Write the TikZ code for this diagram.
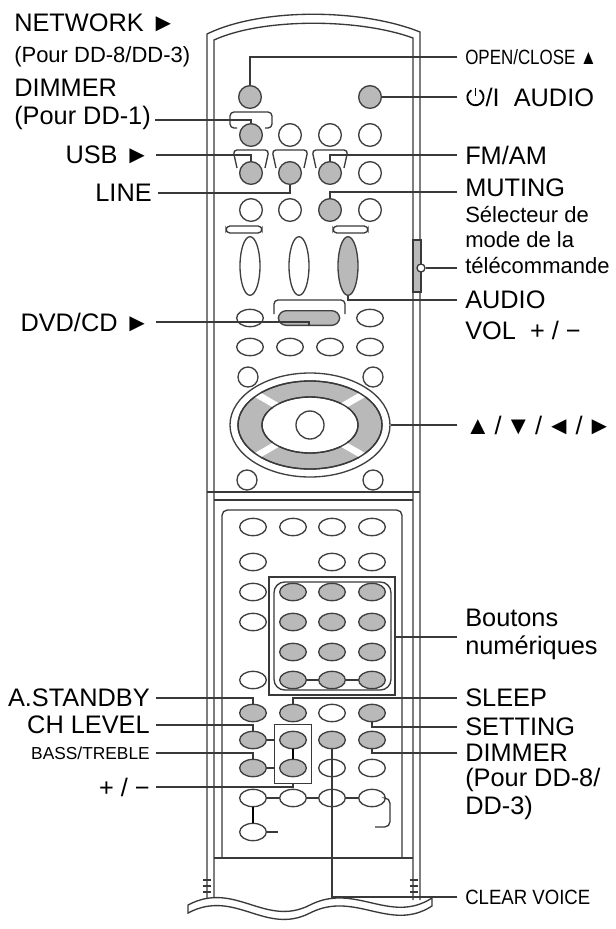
\documentclass[tikz,border=0pt]{standalone}
\usepackage{fontspec}
\setmainfont{Liberation Sans}
\usepackage{graphicx}
\usepackage{tikz}
\usetikzlibrary{positioning,shapes.geometric,calc}

\tikzset{
  btn/.style={circle,draw=gray!50!black,line width=1pt,minimum size=17pt,inner sep=0pt},
  ovl/.style={ellipse,draw=gray!50!black,line width=1pt,minimum width=20pt,minimum height=13pt,inner sep=0pt},
  on/.style={fill=gray!55},
  off/.style={fill=white},
  body/.style={draw=gray!45!black,line width=1pt},
  lead/.style={draw=gray!45!black,line width=1.2pt},
  big/.style={font=\fontsize{19}{21}\selectfont,inner sep=0pt},
  mid/.style={font=\fontsize{16.5}{19}\selectfont,inner sep=0pt},
  bassf/.style={font=\fontsize{13}{15}\selectfont,inner sep=0pt},
  sml/.style={font=\fontsize{15.5}{17}\selectfont,inner sep=0pt},
  stk/.style={font=\fontsize{16.5}{19}\selectfont,inner sep=0pt,align=left}
}
\newcommand{\powersym}{\tikz[baseline=0pt,line width=1.4pt]{\draw (0,0.36em) +(60:0.32em) arc (60:-240:0.32em); \draw (0,0.4em) -- (0,0.74em);}}

\begin{document}
\begin{tikzpicture}[x=0.75pt,y=-0.75pt]
	\useasboundingbox (0,0) rectangle (615,929);

	% remote body
	\draw[body] (207,900) -- (207,34) .. controls (260,8) and (360,8) .. (420,32) -- (420,900);
	\draw[body] (214,900) -- (214,40) .. controls (262,18) and (358,18) .. (413,38) -- (413,900);
	\draw[body] (207,492) -- (420,492);
	\draw[body] (214,500) -- (413,500);
	\draw[body,rounded corners=4] (222,858) -- (222,510) -- (402,510) -- (402,858);
	\draw[body] (214,858) -- (413,858);
	\draw[body,fill=white] (188,905) .. controls (235,880) and (265,928) .. (310,905) .. controls (355,882) and (390,925) .. (432,898)
		-- (432,906) .. controls (390,933) and (355,890) .. (310,913) .. controls (265,936) and (235,888) .. (188,913) -- cycle;
	\foreach \y in {880,886,892} {
		\draw[body] (203,\y) -- (211,\y);
		\draw[body] (410,\y) -- (418,\y);
	}

	% side switch
	\draw[body,fill=gray!55] (413,240) rectangle (421,292);
	\node[circle,draw=gray!45!black,fill=white,line width=1pt,minimum size=6pt,inner sep=0pt] (knob) at (421,268) {};

	% top buttons
	\node[btn,on] (r0c1) at (250,97) {};
	\node[btn,on] (r0c4) at (370,97) {};
	\foreach \c/\x/\s in {1/251/on,2/290/off,3/330/off,4/370/off}
		\node[btn,\s] (r1c\c) at (\x,135) {};
	\foreach \c/\x/\s in {1/251/on,2/290/on,3/330/on,4/370/off}
		\node[btn,\s] (r2c\c) at (\x,173) {};
	\foreach \c/\x/\s in {1/251/off,2/290/off,3/330/on,4/370/off}
		\node[btn,\s] (r3c\c) at (\x,210) {};
	\draw[body,rounded corners=3] (237,128) -- (230,128) -- (230,112) -- (272,112) -- (272,128) -- (265,128);
	\foreach \x in {251,290,330}
		\draw[body,rounded corners=3] ($(\x,168)+(-14,0)$) -- ($(\x,150)+(-18,0)$) -- ($(\x,150)+(18,0)$) -- ($(\x,168)+(14,0)$);

	% volume column
	\draw[body,rounded corners=3] (226,226) rectangle (262,233);
	\draw[body,rounded corners=3] (333,226) rectangle (368,233);
	\node[ellipse,draw=gray!50!black,line width=1pt,minimum width=15pt,minimum height=44pt,inner sep=0pt] (tall1) at (250,266) {};
	\node[ellipse,draw=gray!50!black,line width=1pt,minimum width=15pt,minimum height=44pt,inner sep=0pt] (tall2) at (299,266) {};
	\node[ellipse,draw=gray!50!black,line width=1pt,fill=gray!55,minimum width=15pt,minimum height=44pt,inner sep=0pt] (tall3) at (348,266) {};
	\draw[body,rounded corners=3] (274,314) -- (274,300) -- (345,300) -- (345,314);
	\node[rectangle,rounded corners=6,draw=gray!50!black,line width=1pt,fill=gray!55,minimum width=46pt,minimum height=11pt] (bar) at (309,318) {};
	\node[ovl] (o1) at (250,318) {};
	\node[ovl] (o2) at (370,318) {};
	\foreach \c/\x in {1/250,2/290,3/330,4/370}
		\node[ovl] (p\c) at (\x,347) {};
	\node[btn,minimum size=15pt] (s1) at (248,377) {};
	\node[btn,minimum size=15pt] (s2) at (373,377) {};

	% cursor pad
	\node[ellipse,draw=gray!50!black,line width=1pt,minimum width=120pt,minimum height=78pt,inner sep=0pt] (pad) at (310,425) {};
	\draw[body,fill=gray!55,even odd rule] (310,425) ellipse [x radius=72,y radius=44] (310,425) ellipse [x radius=48,y radius=28];
	\begin{scope}
		\clip (310,425) ellipse [x radius=73,y radius=45];
		\foreach \a in {30,150,210,330}
			\draw[white,line width=5pt] (310,425) -- ++(\a:90);
	\end{scope}
	\draw[body] (310,425) ellipse [x radius=48,y radius=28];
	\draw[body] (310,425) ellipse [x radius=72,y radius=44];
	\node[btn,minimum size=21pt] (ok) at (310,425) {};
	\node[btn,minimum size=15pt] (s3) at (247,480) {};
	\node[btn,minimum size=15pt] (s4) at (373,480) {};

	% lower panel
	\draw[body] (269,577) rectangle (395,695);
	\draw[body,rounded corners=8] (274,582) rectangle (391,690);
	\coordinate (numbox) at (395,637);
	\foreach \r/\y/\a/\b/\c/\d in {a/527/off/off/off/off,c/592/off/on/on/on,d/622/off/on/on/on,f/680/off/on/on/on,g/713/on/on/off/on,h/740/on/on/on/on,i/768/on/on/off/off,j/798/off/off/off/off} {
		\node[ovl,\a] (\r1) at (253,\y) {};
		\node[ovl,\b] (\r2) at (293,\y) {};
		\node[ovl,\c] (\r3) at (332,\y) {};
		\node[ovl,\d] (\r4) at (372,\y) {};
	}
	\node[ovl] (b1) at (253,562) {};
	\node[ovl] (b3) at (332,562) {};
	\node[ovl] (b4) at (372,562) {};
	\node[ovl,on] (e2) at (293,652) {};
	\node[ovl,on] (e3) at (332,652) {};
	\node[ovl,on] (e4) at (372,652) {};
	\node[ovl] (k1) at (253,832) {};
	\draw[body] (f2) -- (f3) (f3) -- (f4);
	\draw[body] (j1) -- (j2) (j2) -- (j3) (j3) -- (j4);
	\draw[body,rounded corners=4] (j4.east) -| (390,827) -- (375,827);
	\draw[body] (k1.east) -- (278,832);
	\node[rectangle,draw=gray!45!black,line width=1.2pt,minimum width=28pt,minimum height=44pt] (pmbox) at (293,754) {};
	\draw[body] (h1.east) -- (pmbox.west |- h1);
	\draw[body] (i1.east) -- (pmbox.west |- i1);
	\draw[line width=2.2pt] (h2.south) -- (i2.north);
	\draw[line width=2.2pt] (j1.south) -- (k1.north);

	% labels, left
	\node[big,anchor=west] (netw) at (14,23) {NETWORK ►};
	\node[mid,anchor=west] (pdd83) at (14,57) {(Pour DD-8/DD-3)};
	\node[big,anchor=west] (dimtop) at (14,88) {DIMMER};
	\node[big,anchor=west] (pdd1) at (14,118) {(Pour DD-1)};
	\node[big,anchor=east] (usb) at (150,155) {USB ►};
	\node[big,anchor=east] (linein) at (152,193) {LINE};
	\node[big,anchor=east] (dvd) at (150,322) {DVD/CD ►};
	\node[big,anchor=east] (astby) at (150,698) {A.STANDBY};
	\node[big,anchor=east] (chlev) at (150,725) {CH LEVEL};
	\node[bassf,anchor=east] (bass) at (150,753) {BASS/TREBLE};
	\node[big,anchor=east] (plmin) at (150,787) {+ / −};

	% labels, right
	\node[sml,anchor=west] (open) at (465,57) {\scalebox{0.82}[1]{OPEN/CLOSE ▲}};
	\node[big,anchor=west] (power) at (465,97) {\powersym/I~~AUDIO};
	\node[big,anchor=west] (fmam) at (465,155) {FM/AM};
	\node[big,anchor=west] (muting) at (465,188) {MUTING};
	\node[stk,anchor=north west] (sel) at (465,206) {Sélecteur de\\mode de la\\télécommande};
	\node[big,anchor=west] (audio) at (465,300) {AUDIO};
	\node[big,anchor=west] (vol) at (465,330) {VOL~~+ / −};
	\node[big,anchor=west] (arrows) at (465,425) {▲\,/\,▼\,/\,◄\,/\,►};
	\node[big,anchor=west,align=left] (bout) at (465,634) {Boutons\\numériques};
	\node[big,anchor=west] (sleep) at (465,698) {SLEEP};
	\node[big,anchor=west] (setting) at (465,727) {SETTING};
	\node[big,anchor=west] (dimmer) at (465,753) {DIMMER};
	\node[big,anchor=north west,align=left] (pdd83b) at (465,768) {(Pour DD-8/\\DD-3)};
	\node[sml,anchor=west] (clear) at (465,897) {\scalebox{0.9}[1]{CLEAR VOICE}};

	% leaders
	\draw[lead] ($(pdd1.east)+(4,2)$) -| (r1c1.north);
	\draw[lead] ($(usb.east)+(6,0)$) -| (r2c1.north);
	\draw[lead] ($(linein.east)+(6,0)$) -| (r2c2.south);
	\draw[lead] ($(dvd.east)+(6,0)$) -| (bar.south);
	\draw[lead] ($(astby.east)+(6,0)$) -| (g1.north);
	\draw[lead] ($(chlev.east)+(6,0)$) -| (h1.north);
	\draw[lead] ($(bass.east)+(6,0)$) -| (i1.north);
	\draw[lead] ($(plmin.east)+(6,0)$) -| (pmbox.south);
	\draw[lead] ($(open.west)+(-8,0)$) -| (r0c1.north);
	\draw[lead] ($(power.west)+(-8,0)$) -- (r0c4.east);
	\draw[lead] ($(fmam.west)+(-8,0)$) -| (r2c3.north);
	\draw[lead] ($(muting.west)+(-8,4)$) -| (r3c3.north);
	\draw[lead] (knob.east) -- ($(knob.east -| sel.west)+(-8,0)$);
	\draw[lead] ($(audio.west)+(-8,0)$) -| (tall3.south);
	\draw[lead] ($(arrows.west)+(-8,0)$) -- (pad.east);
	\draw[lead] ($(bout.west)+(-8,3)$) -- (numbox);
	\draw[lead] ($(sleep.west)+(-8,0)$) -| (g2.north);
	\draw[lead] ($(setting.west)+(-8,0)$) -| (g4.south);
	\draw[lead] ($(dimmer.west)+(-8,0)$) -| (h4.south);
	\draw[lead] ($(clear.west)+(-8,0)$) -| (h3.south);
\end{tikzpicture}
\end{document}
